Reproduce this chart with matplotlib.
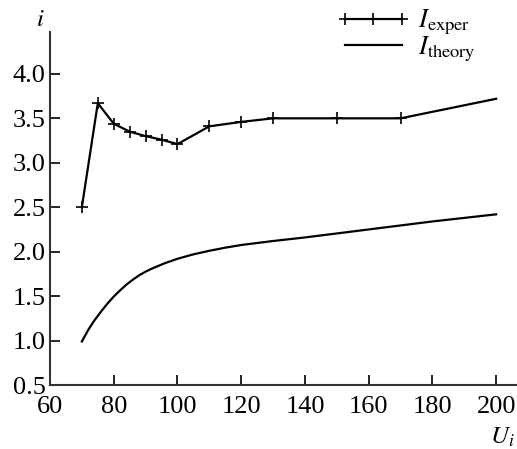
import matplotlib
matplotlib.use("Agg")
import matplotlib.pyplot as plt

plt.rcParams['font.family'] = ['Liberation Serif', 'DejaVu Serif']
plt.rcParams['mathtext.fontset'] = 'stix'

# experimental points
u_exper = [70, 75, 80, 85, 90, 95, 100, 110, 120, 130, 150, 170, 200]
i_exper = [2.50, 3.67, 3.44, 3.35, 3.30, 3.26, 3.21, 3.41, 3.46, 3.50, 3.50, 3.50, 3.72]

# theory curve
u_theory = [70, 72, 74, 76, 78, 80, 82, 84, 86, 88, 90, 92, 94, 96, 100, 105, 110,
            115, 120, 130, 140, 150, 160, 170, 180, 190, 200]
i_theory = [0.99, 1.12, 1.23, 1.325, 1.415, 1.495, 1.565, 1.63, 1.685, 1.735, 1.775,
            1.81, 1.84, 1.87, 1.92, 1.97, 2.01, 2.045, 2.075, 2.12, 2.16, 2.205,
            2.25, 2.295, 2.34, 2.38, 2.42]

xticks = [60, 80, 100, 120, 140, 160, 180, 200]
yticks = [0.5, 1.0, 1.5, 2.0, 2.5, 3.0, 3.5, 4.0]

fig = plt.figure(figsize=(5.17, 4.49), dpi=100)
ax = fig.add_axes([0.0967, 0.1425, 0.903, 0.786])

ax.plot(u_exper, i_exper, color='black', lw=1.6, marker='+', ms=8, mew=1.2,
        markevery=list(range(len(u_exper) - 1)), label=r'$I_{\rm exper}$')
ax.plot(u_theory, i_theory, color='black', lw=1.6, label=r'$I_{\rm theory}$')

ax.set_xlim(60, 206.5)
ax.set_ylim(0.5, 4.47)
ax.set_xticks(xticks)
ax.set_yticks(yticks)
ax.set_yticklabels([f"{v:.1f}" for v in yticks])

for s in ['top', 'right']:
    ax.spines[s].set_visible(False)
for s in ['left', 'bottom']:
    ax.spines[s].set_linewidth(1.5)
    ax.spines[s].set_color('#333333')
ax.tick_params(direction='in', length=7, width=1.2, labelsize=19)
ax.tick_params(axis='x', pad=8)
ax.tick_params(axis='y', pad=3)

fig.text(0.078, 0.955, r'$i$', fontsize=18, ha='center', va='center')
fig.text(0.972, 0.027, r'$U_i$', fontsize=18, ha='center', va='center')

leg = fig.legend(loc='upper left', bbox_to_anchor=(0.652, 0.982), frameon=False,
                 fontsize=19, handlelength=2.75, numpoints=3, handletextpad=0.3,
                 labelspacing=-0.1, borderpad=0, borderaxespad=0)

fig.savefig('out.png', dpi=100)
